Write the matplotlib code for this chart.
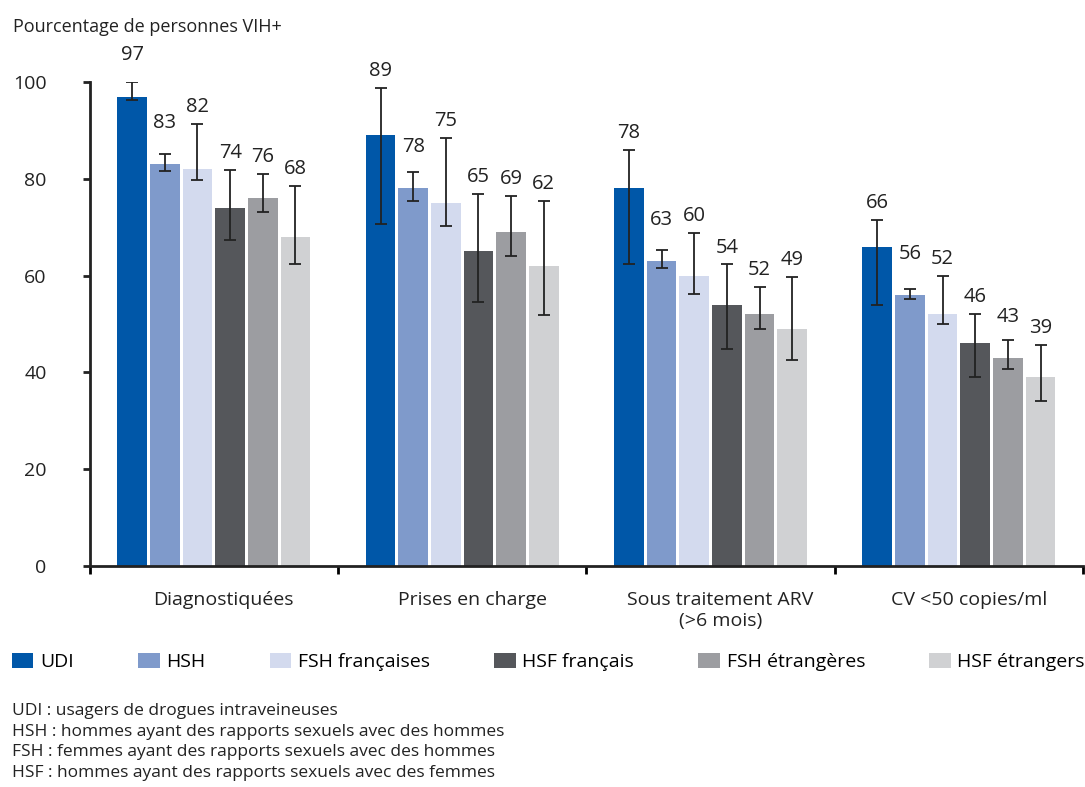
import numpy as np
import matplotlib.pyplot as plt
from matplotlib.patches import Patch

categories = ['Diagnostiquées', 'Prises en charge', 'Sous traitement ARV\n(>6 mois)', 'CV <50 copies/ml']
groups = ['UDI', 'HSH', 'FSH françaises', 'HSF français', 'FSH étrangères', 'HSF étrangers']
colors = ['#0057a8', '#7f9acb', '#d3daee', '#55575b', '#9c9da1', '#d0d1d3']

# valeurs (%) par groupe, une valeur par étape de la cascade
values = {
    'UDI':            [97, 89, 78, 66],
    'HSH':            [83, 78, 63, 56],
    'FSH françaises': [82, 75, 60, 52],
    'HSF français':   [74, 65, 54, 46],
    'FSH étrangères': [76, 69, 52, 43],
    'HSF étrangers':  [68, 62, 49, 39],
}
# intervalles de confiance (bas, haut)
ci_low = {
    'UDI':            [96.3, 70.6, 62.3, 54.0],
    'HSH':            [81.7, 75.5, 61.5, 55.2],
    'FSH françaises': [79.7, 70.2, 56.1, 49.9],
    'HSF français':   [67.3, 54.5, 44.9, 39.1],
    'FSH étrangères': [73.1, 64.0, 49.0, 40.8],
    'HSF étrangers':  [62.4, 51.9, 42.5, 34.1],
}
ci_high = {
    'UDI':            [100.0, 98.7, 85.9, 71.4],
    'HSH':            [85.1, 81.4, 65.2, 57.3],
    'FSH françaises': [91.4, 88.4, 68.9, 59.9],
    'HSF français':   [81.9, 76.8, 62.3, 52.0],
    'FSH étrangères': [80.9, 76.4, 57.7, 46.6],
    'HSF étrangers':  [78.5, 75.5, 59.8, 45.7],
}
footnotes = [
    'UDI : usagers de drogues intraveineuses',
    'HSH : hommes ayant des rapports sexuels avec des hommes',
    'FSH : femmes ayant des rapports sexuels avec des hommes',
    'HSF : hommes ayant des rapports sexuels avec des femmes',
]

plt.rcParams['font.family'] = ['Open Sans', 'DejaVu Sans']

fig = plt.figure(figsize=(10.85, 7.87), dpi=100)
ax = fig.add_axes([0.0826, 0.2808, 0.9156, 0.615])

x = np.arange(len(categories))
step = 0.1315
width = 0.119
for i, g in enumerate(groups):
    pos = x + (i - 2.5) * step
    v = np.array(values[g])
    lo = v - np.array(ci_low[g])
    hi = np.array(ci_high[g]) - v
    ax.bar(pos, v, width, color=colors[i], zorder=2)
    ax.errorbar(pos, v, yerr=[lo, hi], fmt='none', ecolor='#222222',
                elinewidth=1.3, capsize=4, capthick=1.3, zorder=3)
    for p, val, top in zip(pos, v, ci_high[g]):
        ax.text(p, max(top + 3.5, val + 8.5), str(val), ha='center', va='center',
                fontsize=14.5, color='#222222')

ax.set_xlim(-0.5, 3.5)
ax.set_ylim(0, 100)
ax.set_yticks(np.arange(0, 101, 20))
ax.tick_params(axis='y', direction='out', length=5, width=2, pad=26,
               labelsize=14, colors='#222222')
ax.set_xticks(np.arange(-0.5, 3.6, 1))
ax.set_xticklabels([])
ax.set_xticks(x + 0.04, minor=True)
ax.set_xticklabels(categories, minor=True, fontsize=14, color='#222222')
ax.tick_params(axis='x', which='major', direction='out', length=6, width=2)
ax.tick_params(axis='x', which='minor', length=0, pad=18)

for s in ['top', 'right']:
    ax.spines[s].set_visible(False)
for s in ['left', 'bottom']:
    ax.spines[s].set_linewidth(2)
    ax.spines[s].set_color('#222222')

fig.text(0.012, 0.966, 'Pourcentage de personnes VIH+', fontsize=13,
         color='#222222', va='center')

handles = [Patch(facecolor=c, edgecolor='none') for c in colors]
fig.legend(handles, groups, loc='center left', ncol=6, mode='expand',
           bbox_to_anchor=(0.011, 0.144, 0.989, 0.03), frameon=False,
           fontsize=14, handlelength=1.1, handleheight=0.85,
           handletextpad=0.35, borderaxespad=0, borderpad=0)

fig.text(0.011, 0.107, '\n'.join(footnotes), fontsize=12.5,
         color='#222222', va='top', linespacing=1.4)

fig.savefig('out.png', dpi=100)
